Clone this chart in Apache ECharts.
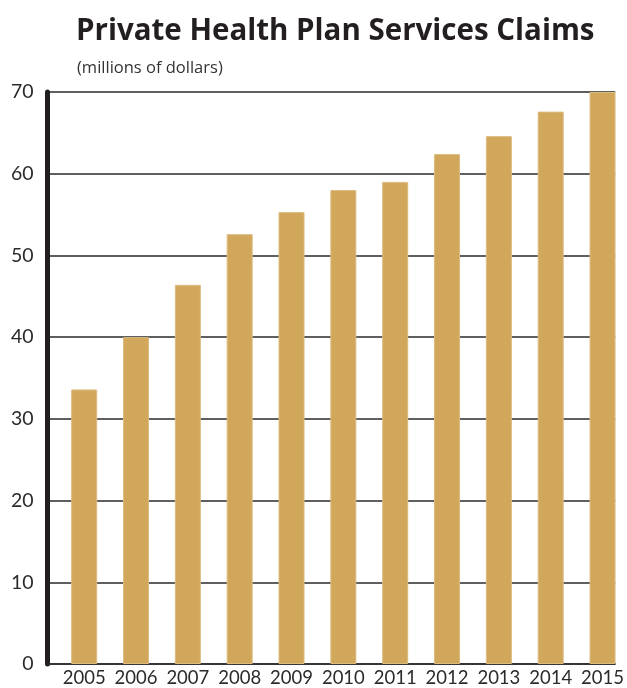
<!DOCTYPE html>
<html>
<head>
<meta charset="utf-8">
<title>Private Health Plan Services Claims</title>
<script src="https://cdn.jsdelivr.net/npm/echarts@6/dist/echarts.min.js"></script>
<style>
  html, body { margin: 0; padding: 0; background: #ffffff; }
  #chart { width: 627px; height: 688px; }
</style>
</head>
<body>
<div id="chart"></div>
<script>
// Claims paid by private health plans, millions of dollars
const years = [2005, 2006, 2007, 2008, 2009, 2010, 2011, 2012, 2013, 2014, 2015];
const claims = [33.6, 40.0, 46.4, 52.6, 55.3, 58.0, 59.0, 62.4, 64.6, 67.6, 70.0];
const yTicks = [0, 10, 20, 30, 40, 50, 60, 70];

const FONT = 'Lato, "Noto Sans", sans-serif';
const TITLE_FONT = '"Open Sans", Lato, sans-serif';
const INK = '#231f20';
const GOLD = '#d1a75c';

const chart = echarts.init(document.getElementById('chart'), null, { renderer: 'canvas' });

chart.setOption({
  animation: false,
  backgroundColor: '#ffffff',
  title: [
    {
      text: 'Private Health Plan Services Claims',
      left: 71,
      top: 12,
      textStyle: { fontFamily: TITLE_FONT, fontSize: 29.5, fontWeight: 'bold', color: INK }
    },
    {
      text: '(millions of dollars)',
      left: 72,
      top: 55,
      textStyle: { fontFamily: TITLE_FONT, fontSize: 16.5, fontWeight: 'normal', color: '#333333' }
    }
  ],
  grid: { left: 47.5, right: 7, top: 92, bottom: 21, containLabel: false },
  xAxis: {
    type: 'value',
    min: 2004.2925,
    max: 2015.245,
    splitNumber: 11,
    axisLine: { show: true, onZero: false, lineStyle: { color: '#2a2a2a', width: 1.5 } },
    axisTick: { show: false },
    splitLine: { show: false },
    axisLabel: {
      show: true,
      showMinLabel: false,
      showMaxLabel: false,
      margin: 5,
      fontFamily: FONT,
      fontSize: 18.5,
      color: '#2b2b2b',
      formatter: function (v) {
        const r = Math.round(v);
        return (Math.abs(v - r) < 1e-6 && years.indexOf(r) >= 0) ? String(r) : '';
      }
    }
  },
  yAxis: {
    type: 'value',
    min: yTicks[0],
    max: yTicks[yTicks.length - 1],
    interval: yTicks[1] - yTicks[0],
    axisLine: { show: true, lineStyle: { color: INK, width: 5 } },
    axisTick: { show: false },
    axisLabel: { margin: 14, fontFamily: FONT, fontSize: 19.5, color: '#2b2b2b' },
    splitLine: { show: true, lineStyle: { color: '#2a2a2a', width: 1.5 } }
  },
  series: [
    {
      type: 'bar',
      barWidth: 26,
      itemStyle: { color: GOLD, borderColor: '#dcbb80', borderWidth: 1 },
      data: years.map((y, i) => [y, claims[i]])
    }
  ]
});
</script>
</body>
</html>
